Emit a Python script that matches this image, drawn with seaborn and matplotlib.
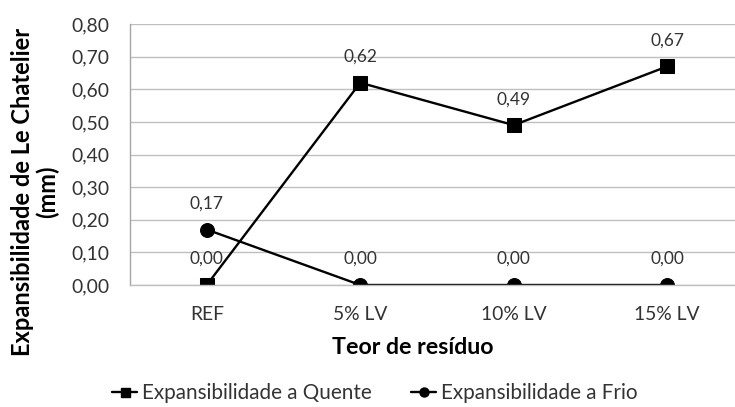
import matplotlib
matplotlib.use("Agg")
import matplotlib.pyplot as plt
import seaborn as sns
import pandas as pd
from matplotlib.lines import Line2D

categories = ["REF", "5% LV", "10% LV", "15% LV"]
quente = [0.00, 0.62, 0.49, 0.67]
frio = [0.17, 0.00, 0.00, 0.00]
yticks = [0.0, 0.1, 0.2, 0.3, 0.4, 0.5, 0.6, 0.7, 0.8]
name_q = "Expansibilidade a Quente"
name_f = "Expansibilidade a Frio"
xlabel = "Teor de resíduo"
ylabel_l1 = "Expansibilidade de Le Chatelier"
ylabel = ylabel_l1 + "\n(mm)"

sns.set_style("white")
plt.rcParams['font.family'] = ['Lato', 'DejaVu Sans']

W, H = 735, 407
PX = 100 / 72.0  # px per pt
TXT = "#333333"
GRID = "#bfbfbf"
AXC = "#a6a6a6"

def fmt(v):
    return f"{v:.2f}".replace(".", ",")

df = pd.DataFrame({
    "cat": categories * 2,
    "val": quente + frio,
    "serie": [name_q] * 4 + [name_f] * 4,
})

fig = plt.figure(figsize=(W / 100, H / 100), dpi=100)
ax = fig.add_axes([130 / W, 122 / H, 614 / W, 261 / H])
renderer = fig.canvas.get_renderer()

def fit_size(s, target, weight="normal", base=12.0):
    t = fig.text(0, 0, s, fontsize=base, fontweight=weight)
    w = t.get_window_extent(renderer).width
    t.remove()
    return base * target / w

fs_tick = (fit_size("10% LV", 65) + fit_size("0,80", 38) + fit_size("5% LV", 54)) / 3
fs_data = fit_size("0,62", 34)
fs_xlab = fit_size(xlabel, 161, "bold")
fs_ylab = fit_size(ylabel_l1, 326, "bold")
fs_leg = (fit_size(name_q, 230) + fit_size(name_f, 196)) / 2

sns.lineplot(data=df, x="cat", y="val", hue="serie", style="serie",
             markers={name_q: "s", name_f: "o"}, dashes=False,
             palette={name_q: "black", name_f: "black"},
             markersize=10, linewidth=1.7, sort=False, ax=ax, legend=False,
             markeredgecolor="black")

ax.set_xlim(-0.5, 3.5)
ax.set_ylim(0, 0.8)
ax.set_yticks(yticks)
ax.set_yticklabels([fmt(v) for v in yticks], fontsize=fs_tick, color=TXT)
ax.set_xticks(range(len(categories)))
ax.set_xticklabels(categories, fontsize=fs_tick, color=TXT)
for lab in ax.get_xticklabels():
    lab.set_va("center")
ax.tick_params(axis="x", which="major", length=0, pad=30 / PX)
ax.tick_params(axis="y", length=6 / PX, color=AXC, width=1, direction="out", pad=15 / PX)
ax.set_xticks([0.5, 1.5, 2.5], minor=True)
ax.tick_params(axis="x", which="minor", length=6 / PX, color=AXC, width=1, direction="out")
ax.grid(axis="y", color=GRID, linewidth=1)
ax.set_axisbelow(True)
for s in ["top", "right"]:
    ax.spines[s].set_visible(False)
ax.spines["left"].set_color(AXC)
ax.spines["bottom"].set_color(GRID)
for s in ["left", "bottom"]:
    ax.spines[s].set_linewidth(1)

ax.set_xlabel(xlabel, fontsize=fs_xlab, fontweight="bold", color="black", va="center")
ax.xaxis.set_label_coords((412.5 - 130) / 614, (H - 348 - 122) / 261)
ax.set_ylabel(ylabel, fontsize=fs_ylab, fontweight="bold", color="black",
              va="center", ha="center", linespacing=1.1)
ax.yaxis.set_label_coords((35 - 130) / 614, (H - 192 - 122) / 261)

for series in (quente, frio):
    for i, v in enumerate(series):
        ax.annotate(fmt(v), (i, v), xytext=(0, 26 / PX), textcoords="offset points",
                    ha="center", va="center", fontsize=fs_data, color=TXT)

fpx = fs_leg * PX
handles = [Line2D([], [], color="black", marker="s", markersize=9 / PX, linewidth=1.7),
           Line2D([], [], color="black", marker="o", markersize=9 / PX, linewidth=1.7)]
fig.legend(handles, [name_q, name_f], loc="center", bbox_to_anchor=(375 / W, 1 - 393 / H),
           ncol=2, frameon=False, fontsize=fs_leg, labelcolor=TXT,
           handlelength=25 / fpx, handletextpad=5 / fpx, columnspacing=39 / fpx,
           borderaxespad=0, borderpad=0)

fig.savefig("out.png", dpi=100)
